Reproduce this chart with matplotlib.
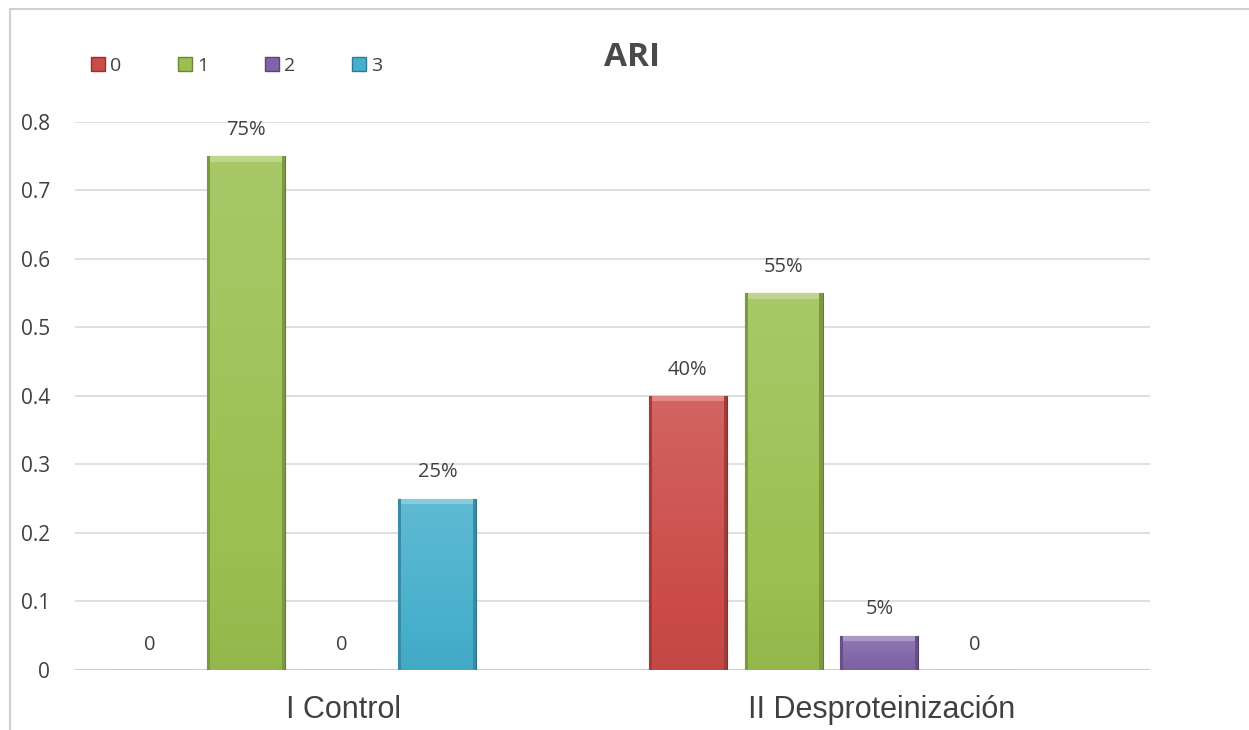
import numpy as np
import matplotlib
matplotlib.use("Agg")
import matplotlib.pyplot as plt
from matplotlib.patches import Rectangle
from matplotlib.lines import Line2D
from matplotlib.colors import to_rgb

title = "ARI"
categories = ["I Control", "II Desproteinización"]
series_names = ["0", "1", "2", "3"]
values = {
    "0": [0.0, 0.40],
    "1": [0.75, 0.55],
    "2": [0.0, 0.05],
    "3": [0.25, 0.0],
}
colors = {"0": "#CB4B48", "1": "#9BBF50", "2": "#8064A8", "3": "#46AFCC"}
yticks = [0, 0.1, 0.2, 0.3, 0.4, 0.5, 0.6, 0.7, 0.8]

text_gray = "#404040"
fig = plt.figure(figsize=(12.49, 7.30), dpi=100)
fig.patch.set_facecolor("white")
ax = fig.add_axes([0.060, 0.0822, 0.861, 0.7507])

# outer chart frame
fig.patches.append(Rectangle((10 / 1249, -0.05), 1.2, 1.05 - 9 / 730,
                             transform=fig.transFigure, fill=False,
                             edgecolor="#D0D0D0", linewidth=1.5))

start, step, width = 0.14, 0.178, 0.145


def shade(c, f):
    r = np.array(to_rgb(c))
    if f >= 0:
        return tuple(r + (1 - r) * f)
    return tuple(r * (1 + f))


for k, name in enumerate(series_names):
    xs = np.arange(len(categories)) + start + k * step
    vals = values[name]
    bars = ax.bar(xs, vals, width=width, color=colors[name],
                  edgecolor=shade(colors[name], -0.35), linewidth=0.8, zorder=3)
    for b, v in zip(bars, vals):
        x0, w = b.get_x(), b.get_width()
        if v > 0:
            # vertical gradient inside each bar, lighter at the top
            grad = np.linspace(0.14, -0.04, 64)
            img = np.array([[shade(colors[name], g) for _ in range(2)] for g in grad])
            im = ax.imshow(img, extent=(x0, x0 + w, 0, v), origin="upper",
                           aspect="auto", zorder=3.5, interpolation="bilinear")
            im.set_clip_path(b)
            # bevel highlight on top edge
            ax.add_patch(Rectangle((x0, v - 0.008), w, 0.008,
                                   facecolor=shade(colors[name], 0.35),
                                   edgecolor="none", zorder=4))
            # darker side edges
            ax.add_patch(Rectangle((x0, 0), w * 0.04, v,
                                   facecolor=shade(colors[name], -0.2),
                                   edgecolor="none", zorder=4))
            ax.add_patch(Rectangle((x0 + w * 0.96, 0), w * 0.04, v,
                                   facecolor=shade(colors[name], -0.2),
                                   edgecolor="none", zorder=4))
            ax.text(x0 + w / 2, v + 0.024, f"{v * 100:.0f}%",
                    ha="center", va="bottom", fontsize=14.5, color=text_gray,
                    family="Open Sans", zorder=5)
        else:
            ax.text(x0 + w / 2, 0.022, "0", ha="center", va="bottom",
                    fontsize=14.5, color=text_gray, family="Open Sans", zorder=5)

ax.set_xlim(0, len(categories))
ax.set_ylim(0, 0.8)
ax.set_yticks(yticks)
ax.set_yticklabels([f"{t:g}" for t in yticks], fontsize=15, color=text_gray,
                   family="Open Sans")
ax.set_xticks(np.arange(len(categories)) + 0.5)
ax.set_xticklabels(categories, fontsize=22, color=text_gray,
                   family=["Liberation Sans Narrow", "Liberation Sans"])
ax.tick_params(axis="both", length=0)
ax.tick_params(axis="y", pad=18)
ax.tick_params(axis="x", pad=18)
ax.grid(axis="y", color="#D9D9D9", linewidth=1.2, zorder=0)
for s in ax.spines.values():
    s.set_visible(False)
ax.axhline(0, color="#D0D0D0", linewidth=1.5, zorder=2)

fig.text(632 / 1249, 1 - 57 / 730, title, ha="center", va="center",
         fontsize=24, fontweight="bold", color="#4A4A4A", family="Open Sans")

handles = [Line2D([], [], marker="s", linestyle="none", markersize=10,
                  markerfacecolor=colors[n], markeredgecolor=shade(colors[n], -0.3))
           for n in series_names]
leg = fig.legend(handles, series_names, loc="center left",
                 bbox_to_anchor=(71 / 1249, 1 - 66 / 730), ncol=4, frameon=False,
                 fontsize=14, handletextpad=0.1, columnspacing=2.8,
                 handlelength=1.0)
for t in leg.get_texts():
    t.set_color(text_gray)
    t.set_family("Open Sans")

fig.savefig("out.png", dpi=100, facecolor="white")
